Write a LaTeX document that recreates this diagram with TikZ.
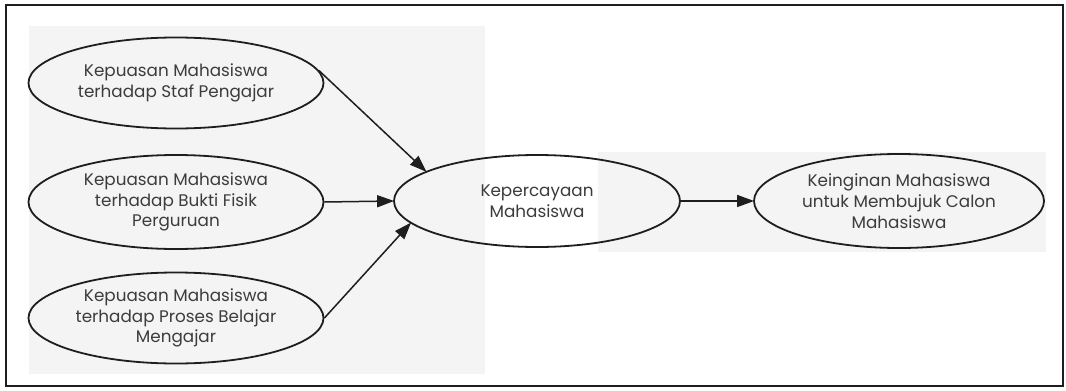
\documentclass[tikz,border=0pt]{standalone}
\usepackage{fontspec}
\setmainfont{Poppins}
\usetikzlibrary{shapes.geometric,arrows.meta}
\definecolor{txt}{HTML}{3C3C3C}
\definecolor{ln}{HTML}{1E1E1E}
\definecolor{scan}{HTML}{F4F4F4}
\tikzset{
  var/.style={draw=ln, line width=1.8pt, ellipse, inner sep=0pt,
    text=txt, align=center,
    font=\fontsize{16.8}{20.8}\selectfont},
  link/.style={draw=ln, line width=1.5pt,
    -{Triangle[length=17pt,width=12pt]}, shorten >=-1pt},
}
\begin{document}
\begin{tikzpicture}[x=1pt,y=-1pt]
\useasboundingbox (0,0) rectangle (1066,391);
\fill[white] (0,0) rectangle (1066,391);
\fill[scan] (29,26) rectangle (485,374);
\fill[scan] (598,152) rectangle (1046,252);
\draw[ln, line width=1.4pt] (6,5) rectangle (1063,386);
\node[var, minimum width=295pt, minimum height=91pt] (e1) at (176,83)
  {Kepuasan Mahasiswa\\terhadap Staf Pengajar};
\node[var, minimum width=295pt, minimum height=94pt] (e2) at (176,202)
  {Kepuasan Mahasiswa\\terhadap Bukti Fisik\\Perguruan};
\node[var, minimum width=295pt, minimum height=91pt] (e3) at (176,318)
  {Kepuasan Mahasiswa\\terhadap Proses Belajar\\Mengajar};
\node[var, minimum width=286pt, minimum height=92pt] (e4) at (537,201)
  {Kepercayaan\\Mahasiswa};
\node[var, minimum width=290pt, minimum height=94pt] (e5) at (899,201)
  {Keinginan Mahasiswa\\untuk Membujuk Calon\\Mahasiswa};
\draw[link] (e1.5) -- (e4.165);
\draw[link] (e2.east) -- (e4.west);
\draw[link] (e3.east) -- (e4.190);
\draw[link] (e4.east) -- (e5.west);
\end{tikzpicture}
\end{document}
